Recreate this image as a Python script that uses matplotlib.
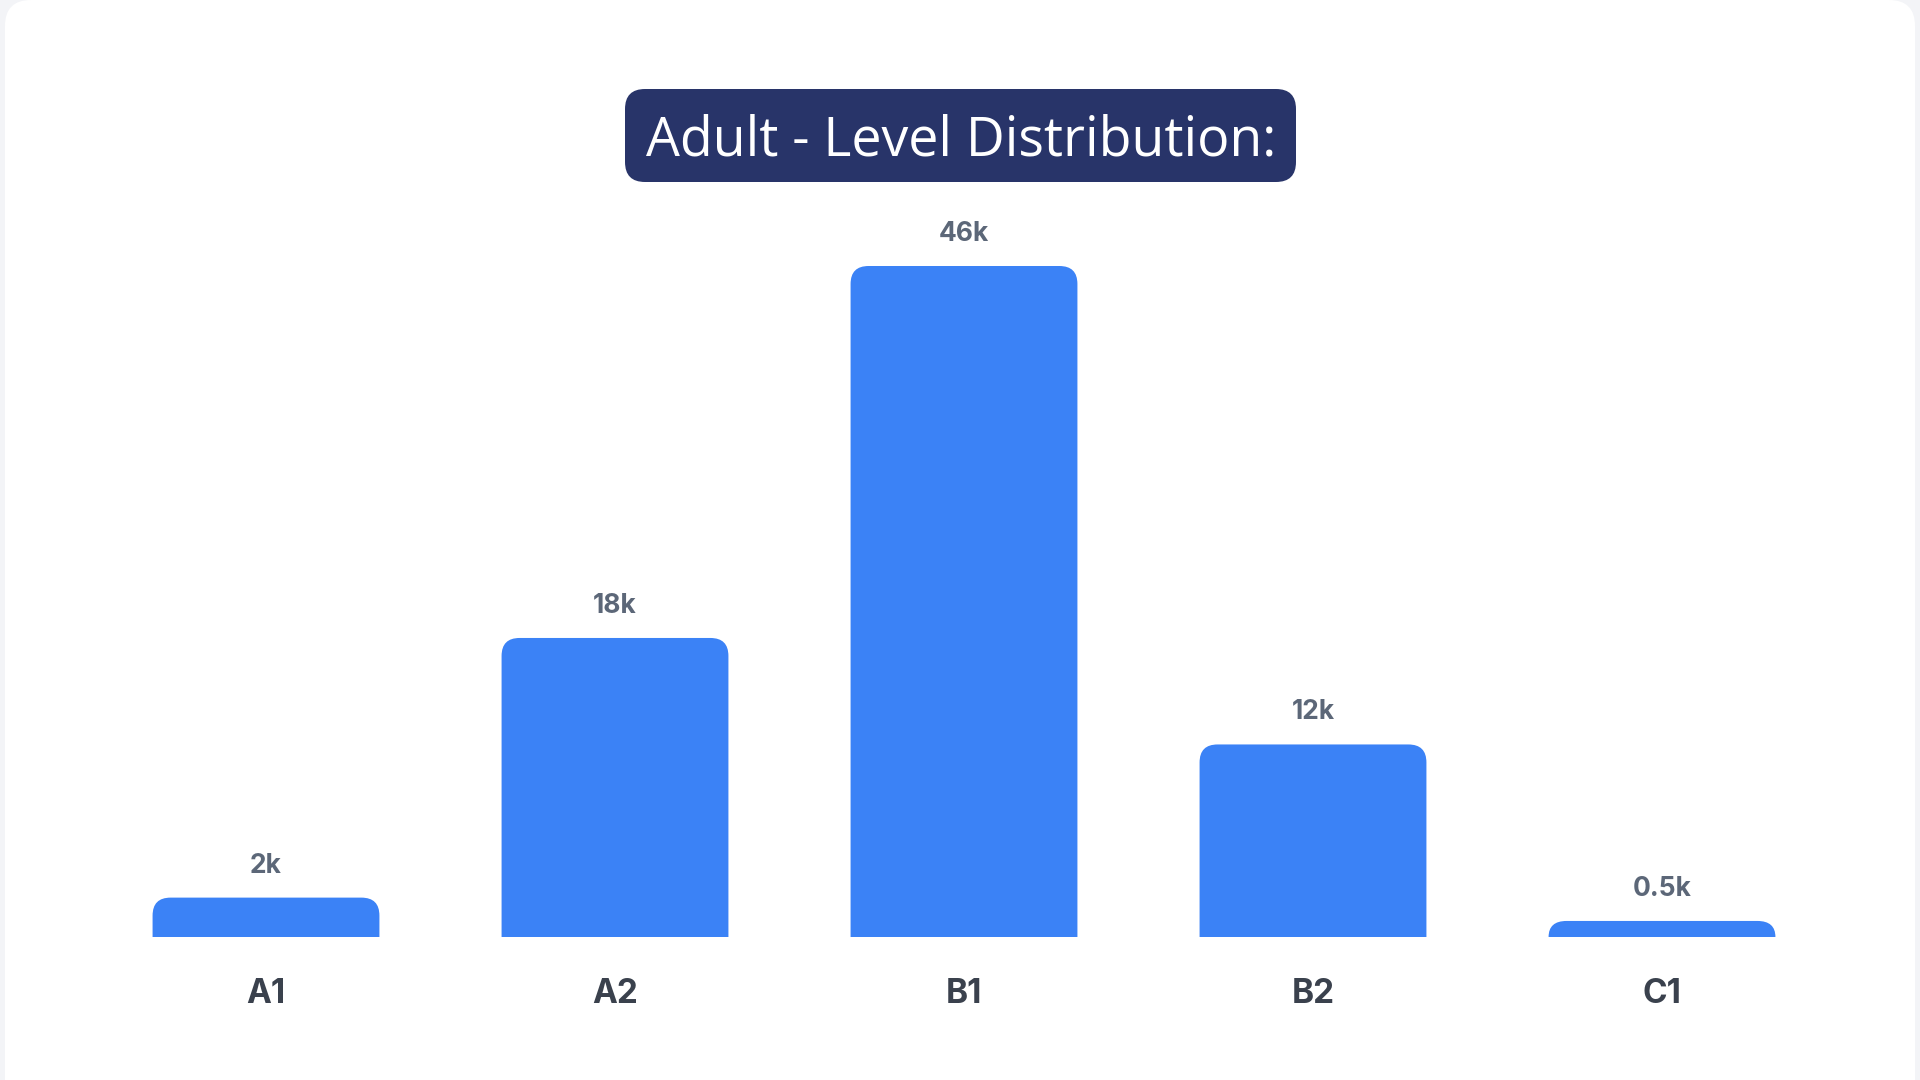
import matplotlib
matplotlib.use("Agg")
import matplotlib.pyplot as plt
from matplotlib.patches import FancyBboxPatch, PathPatch
from matplotlib.path import Path

levels = ["A1", "A2", "B1", "B2", "C1"]
# bar heights as drawn (thousands) and the labels printed above them
counts = [2.7, 20.5, 46.0, 13.2, 1.1]
count_labels = ["2k", "18k", "46k", "12k", "0.5k"]
title = "Adult - Level Distribution:"

W, H = 1920, 1080
fig = plt.figure(figsize=(W / 100, H / 100), dpi=100)
fig.patch.set_facecolor("#f3f4f7")

# background layer in pixel units: card + title pill
bg = fig.add_axes([0, 0, 1, 1], zorder=-1)
bg.set_xlim(0, W)
bg.set_ylim(0, H)
bg.axis("off")
bg.add_patch(FancyBboxPatch((5, -60), 1910, H + 60,
                            boxstyle="round,pad=0,rounding_size=26",
                            facecolor="white", edgecolor="none"))
bg.add_patch(FancyBboxPatch((625, H - 182), 671, 93,
                            boxstyle="round,pad=0,rounding_size=20",
                            facecolor="#283469", edgecolor="none"))
bg.text(961, H - 155, title, ha="center", va="baseline",
        color="white", fontsize=38.6, family=["Open Sans", "DejaVu Sans"])

ax = fig.add_axes([91.5 / W, 143 / H, 1745 / W, 671 / H])
ax.set_xlim(-0.5, len(levels) - 0.5)
ax.set_ylim(0, max(counts))
ax.set_facecolor("none")
for s in ax.spines.values():
    s.set_visible(False)
ax.set_yticks([])

bar_w = 0.65
px_x = 1745 / len(levels)
px_y = 671 / max(counts)
r_px = 18
for i, v in enumerate(counts):
    x0, x1 = i - bar_w / 2, i + bar_w / 2
    rx = r_px / px_x
    ry = min(r_px, v * px_y) / px_y
    verts = [(x0, 0), (x0, v - ry), (x0, v), (x0 + rx, v),
             (x1 - rx, v), (x1, v), (x1, v - ry), (x1, 0), (x0, 0)]
    codes = [Path.MOVETO, Path.LINETO, Path.CURVE3, Path.CURVE3,
             Path.LINETO, Path.CURVE3, Path.CURVE3, Path.LINETO,
             Path.CLOSEPOLY]
    ax.add_patch(PathPatch(Path(verts, codes), facecolor="#3b82f6",
                           edgecolor="none"))
    ax.annotate(count_labels[i], (i, v), xytext=(0, 18),
                textcoords="offset points", ha="center", va="baseline",
                fontsize=19, color="#5c6778", fontweight="bold",
                family=["Inter", "DejaVu Sans"])

ax.set_xticks(range(len(levels)))
ax.set_xticklabels(levels, fontsize=24, fontweight="bold", color="#3a414d",
                   family=["Inter", "DejaVu Sans"])
ax.tick_params(axis="x", length=0, pad=29.5)

fig.savefig("out.png", dpi=100, facecolor=fig.get_facecolor())
